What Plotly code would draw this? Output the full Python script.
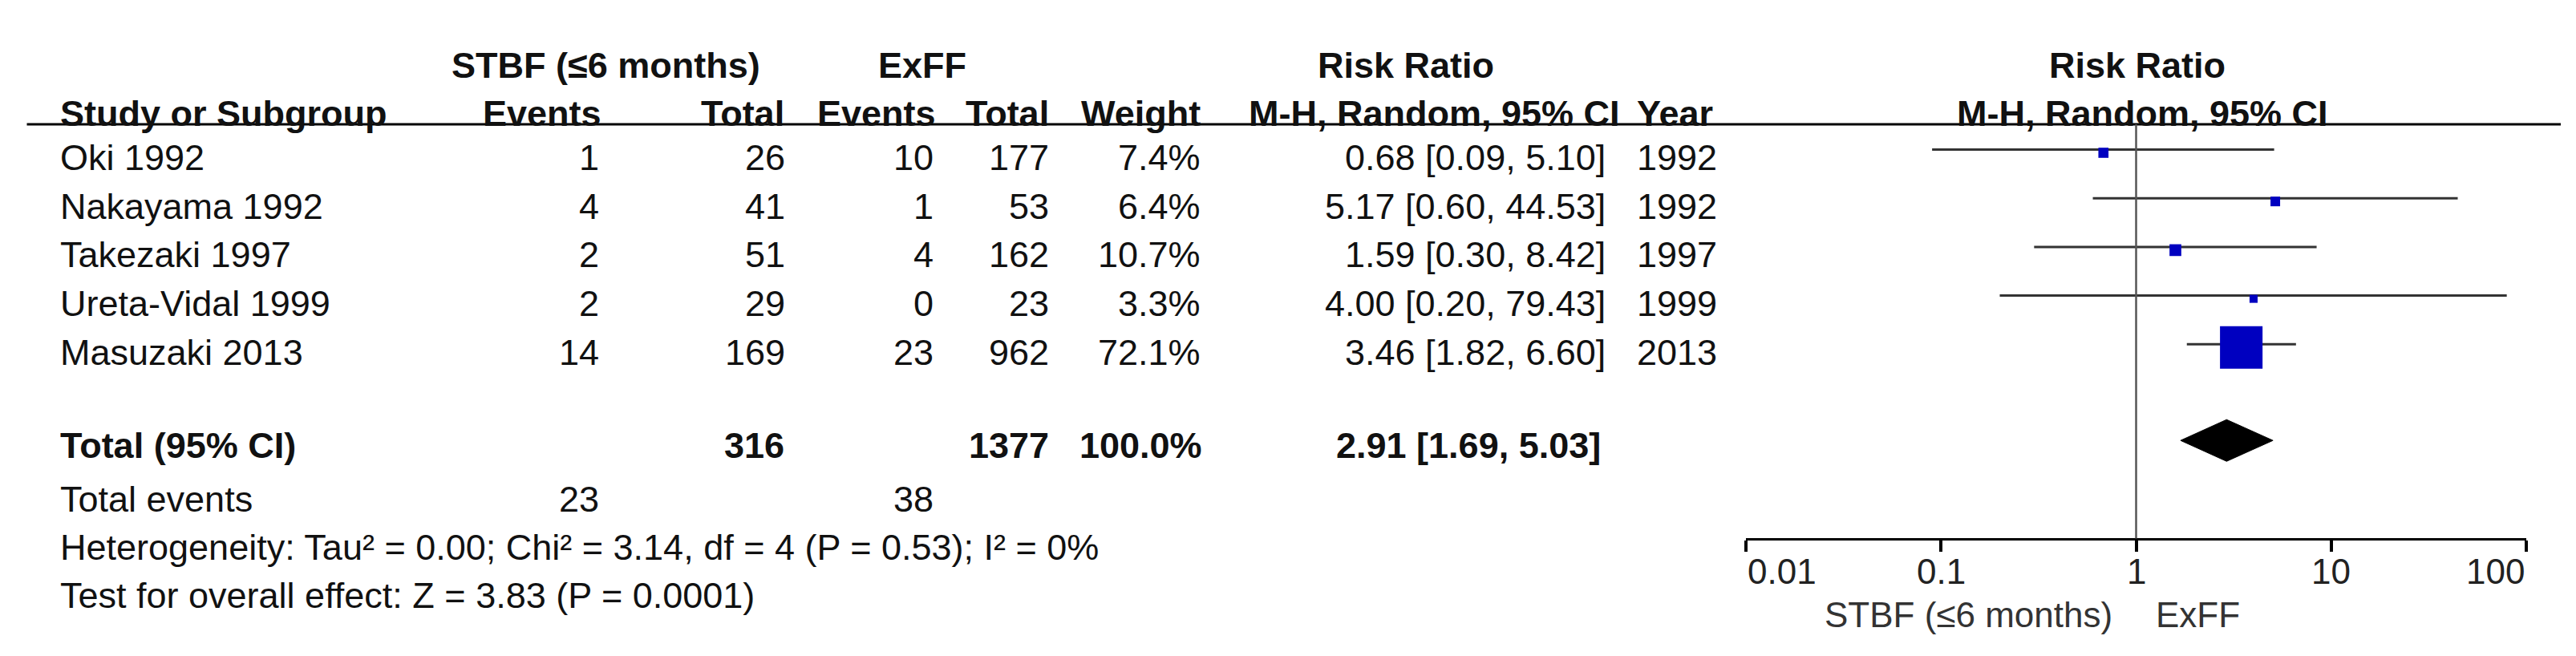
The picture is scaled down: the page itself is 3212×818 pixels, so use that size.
import math
import plotly.graph_objects as go

W, H = 3212, 818

# ---------------- data ----------------
studies = ["Oki 1992", "Nakayama 1992", "Takezaki 1997", "Ureta-Vidal 1999", "Masuzaki 2013"]
stbf_events = [1, 4, 2, 2, 14]
stbf_total = [26, 41, 51, 29, 169]
exff_events = [10, 1, 4, 0, 23]
exff_total = [177, 53, 162, 23, 962]
weights = [7.4, 6.4, 10.7, 3.3, 72.1]
rr = [0.68, 5.17, 1.59, 4.00, 3.46]
ci_low = [0.09, 0.60, 0.30, 0.20, 1.82]
ci_high = [5.10, 44.53, 8.42, 79.43, 6.60]
years = [1992, 1992, 1997, 1999, 2013]

total_stbf = 316
total_exff = 1377
total_weight = 100.0
pooled_rr = 2.91
pooled_low = 1.69
pooled_high = 5.03
events_stbf_sum = 23
events_exff_sum = 38
heterogeneity = "Heterogeneity: Tau² = 0.00; Chi² = 3.14, df = 4 (P = 0.53); I² = 0%"
overall_effect = "Test for overall effect: Z = 3.83 (P = 0.0001)"

tick_vals = [0.01, 0.1, 1, 10, 100]
tick_text = ["0.01", "0.1", "1", "10", "100"]
favours_left = "STBF (≤6 months)"
favours_right = "ExFF"

# ---------------- layout constants (pixels) ----------------
FONT = "Liberation Sans, Arial, Helvetica, sans-serif"
FS = 45
TXT = "#111111"
ROW0_PX = 182.5       # plot row 0 centre (pixels from top)
ROW_STEP = 60.7
TEXT_SHIFT = -6       # table text sits slightly below plot row centres
LINE_OFF = -4 / 60.7  # CI lines sit slightly above square centres
rows = list(range(len(studies)))
total_row = 5.91
events_row = 7.01
het_row = 8.01
test_row = 9.0
head1_px, head2_px, hline_px = 61.0, 121.5, 147.0
axis_px = 663.5
ticklabel_px = 704.0
favours_px = 758.5
plot_x0_px, plot_x1_px = 2169.0, 3142.0

y_top = (0 - ROW0_PX) / ROW_STEP
y_bot = (H - ROW0_PX) / ROW_STEP


def prow(px):
    return (px - ROW0_PX) / ROW_STEP


fig = go.Figure()

# CI lines
cx, cy = [], []
for r, lo, hi in zip(rows, ci_low, ci_high):
    cx += [lo, hi, None]
    cy += [r + LINE_OFF, r + LINE_OFF, None]
fig.add_trace(go.Scatter(x=cx, y=cy, mode="lines",
                         line=dict(color="#333333", width=3),
                         hoverinfo="skip", showlegend=False))

# study squares (size grows with weight)
fig.add_trace(go.Scatter(x=rr, y=rows, mode="markers",
                         marker=dict(symbol="square", color="#0000C0", opacity=1,
                                     size=[8 + 0.625 * w for w in weights],
                                     line=dict(width=0)),
                         hoverinfo="skip", showlegend=False))

# pooled diamond
dh = 26 / ROW_STEP
fig.add_trace(go.Scatter(
    x=[pooled_low, pooled_rr, pooled_high, pooled_rr, pooled_low],
    y=[total_row, total_row - dh, total_row, total_row + dh, total_row],
    mode="lines", fill="toself", fillcolor="black",
    line=dict(color="black", width=1), hoverinfo="skip", showlegend=False))

ann = []


def txt(s, xpx, y, anchor="right", bold=False, size=FS, yref="y", shift=TEXT_SHIFT,
        color=TXT, xref="paper"):
    ann.append(dict(text=f"<b>{s}</b>" if bold else s,
                    x=xpx / W if xref == "paper" else xpx, xref=xref,
                    y=y, yref=yref, yshift=shift, xanchor=anchor, yanchor="middle",
                    showarrow=False, font=dict(family=FONT, size=size, color=color)))


# header texts
h1 = prow(head1_px) - TEXT_SHIFT / ROW_STEP
h2 = prow(head2_px) - TEXT_SHIFT / ROW_STEP
txt("STBF (≤6 months)", 747, h1, "center", True)
txt("ExFF", 1142, h1, "center", True)
txt("Risk Ratio", 1745, h1, "center", True)
txt("Risk Ratio", 2657, h1, "center", True)
txt("Study or Subgroup", 64.5, h2, "left", True)
txt("Events", 744, h2, "right", True)
txt("Total", 972, h2, "right", True)
txt("Events", 1161, h2, "right", True)
txt("Total", 1302, h2, "right", True)
txt("Weight", 1491, h2, "right", True)
txt("M-H, Random, 95% CI", 2014, h2, "right", True)
txt("Year", 2031, h2, "left", True)
txt("M-H, Random, 95% CI", 2663, h2, "center", True)

# study rows
for i, r in enumerate(rows):
    txt(studies[i], 64.5, r, "left")
    txt(str(stbf_events[i]), 741, r)
    txt(str(stbf_total[i]), 973, r)
    txt(str(exff_events[i]), 1158, r)
    txt(str(exff_total[i]), 1302, r)
    txt(f"{weights[i]:.1f}%", 1491, r)
    txt(f"{rr[i]:.2f} [{ci_low[i]:.2f}, {ci_high[i]:.2f}]", 1996, r)
    txt(str(years[i]), 2031, r, "left")

# total rows
txt("Total (95% CI)", 64.5, total_row, "left", True)
txt(str(total_stbf), 972, total_row, "right", True)
txt(str(total_exff), 1302, total_row, "right", True)
txt(f"{total_weight:.1f}%", 1493, total_row, "right", True)
txt(f"{pooled_rr:.2f} [{pooled_low:.2f}, {pooled_high:.2f}]", 1990, total_row, "right", True)
txt("Total events", 64.5, events_row, "left")
txt(str(events_stbf_sum), 741, events_row)
txt(str(events_exff_sum), 1158, events_row)
txt(heterogeneity, 64.5, het_row, "left")
txt(overall_effect, 64.5, test_row, "left")

# tick labels of the log axis (placed at the tick values; end labels aligned inward)
n_ticks = len(tick_vals)
for k, (v, t) in enumerate(zip(tick_vals, tick_text)):
    anchor = "left" if k == 0 else ("right" if k == n_ticks - 1 else "center")
    txt(t, math.log10(v), 1 - ticklabel_px / H, anchor, yref="paper", shift=0,
        size=44, color="#222222", xref="x")

# favours labels
txt(favours_left, 2628, 1 - favours_px / H, "right", yref="paper", shift=0, size=44, color="#333333")
txt(favours_right, 2678, 1 - favours_px / H, "left", yref="paper", shift=0, size=44, color="#333333")

shapes = [
    dict(type="line", xref="paper", yref="paper", x0=25.5 / W, x1=3185 / W,
         y0=1 - hline_px / H, y1=1 - hline_px / H, line=dict(color="black", width=3)),
    dict(type="line", xref="x", yref="paper", x0=1, x1=1,
         y0=1 - axis_px / H, y1=1 - hline_px / H, line=dict(color="#555555", width=2.5)),
]

dom = [plot_x0_px / W, plot_x1_px / W]
axpos = 1 - axis_px / H
fig.update_layout(
    width=W, height=H, margin=dict(l=0, r=0, t=0, b=0),
    paper_bgcolor="white", plot_bgcolor="white",
    annotations=ann, shapes=shapes,
    xaxis=dict(type="log", range=[-2, 2], domain=dom, anchor="free", position=axpos,
               showline=True, linecolor="black", linewidth=3,
               ticks="outside", ticklen=14, tickwidth=3.5, tickcolor="black",
               tickvals=tick_vals, showticklabels=False,
               showgrid=False, zeroline=False),
    xaxis2=dict(type="log", range=[-2, 2], overlaying="x", anchor="free", position=axpos,
                domain=dom, ticks="inside", ticklen=15, tickwidth=3.5, tickcolor="black",
                tickvals=tick_vals, showticklabels=False, showline=False,
                showgrid=False, zeroline=False),
    yaxis=dict(range=[y_bot, y_top], domain=[0, 1], anchor="x", visible=False,
               showgrid=False, zeroline=False),
)

fig.write_html("out.html")
